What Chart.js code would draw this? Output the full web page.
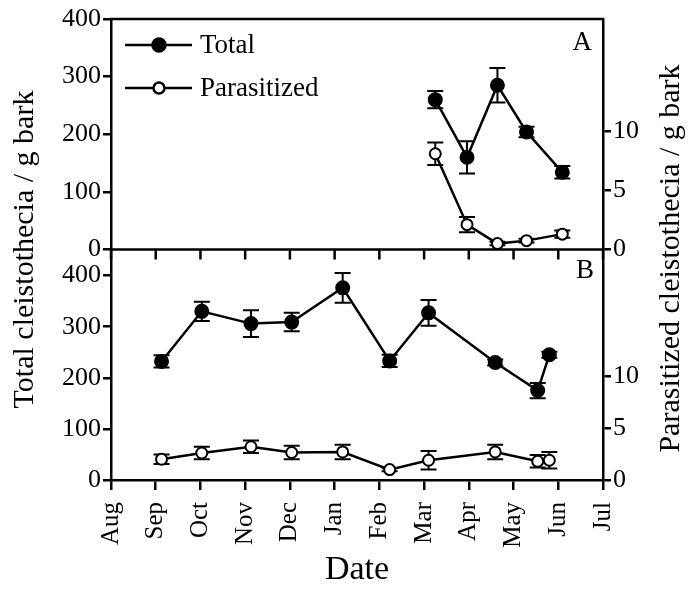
<!DOCTYPE html>
<html lang="en">
<head>
<meta charset="UTF-8">
<title>Cleistothecia per g bark</title>
<script src="https://cdn.jsdelivr.net/npm/chart.js"></script>
<style>
    body { margin: 0; background: #fff; }
    #wrap { width: 691px; height: 590px; }
</style>
</head>
<body>
<div id="wrap"><canvas id="chart" width="691" height="590"></canvas></div>
<script>
    // x values are months counted from 1 Aug (0 = Aug, 11 = Jul)
    const monthLabels = ['Aug', 'Sep', 'Oct', 'Nov', 'Dec', 'Jan', 'Feb', 'Mar', 'Apr', 'May', 'Jun', 'Jul'];
    const leftTicks = [0, 100, 200, 300, 400];
    const rightTicks = [0, 5, 10];

    // panel A
    const datesA = [7.25, 7.96, 8.64, 9.29, 10.09];
    const totalA = [260, 160, 285, 204, 134];
    const totalErrA = [15, 28, 30, 9, 11];
    const parasA = [8.1, 2.1, 0.5, 0.75, 1.3];
    const parasErrA = [0.95, 0.65, 0.15, 0.15, 0.3];

    // panel B
    const datesB = [1.13, 2.03, 3.13, 4.04, 5.18, 6.23, 7.10, 8.59, 9.54, 9.80];
    const totalB = [232, 330, 306, 309, 376, 233, 327, 230, 175, 245];
    const totalErrB = [12, 19, 26, 18, 29, 12, 25, 6, 15, 6];
    const parasB = [2.0, 2.6, 3.2, 2.65, 2.7, 1.0, 1.9, 2.7, 1.8, 1.9];
    const parasErrB = [0.45, 0.6, 0.6, 0.65, 0.7, 0.15, 0.9, 0.7, 0.6, 0.8];

    const serif = "'Liberation Serif', 'Times New Roman', serif";
    Chart.defaults.font.family = serif;
    Chart.defaults.color = '#000';

    function points(xs, ys) {
        return xs.map((x, i) => ({ x: x, y: ys[i] }));
    }

    function series(label, xs, ys, errs, axis, fill) {
        return {
            label: label,
            data: points(xs, ys),
            errors: errs,
            yAxisID: axis,
            borderColor: '#000',
            borderWidth: 2.5,
            pointRadius: fill === '#000' ? 6.5 : 5.5,
            pointBorderWidth: 2,
            pointBorderColor: '#000',
            pointBackgroundColor: fill,
            tension: 0
        };
    }

    function yAxis(pos, max, ticks, weight, width) {
        return {
            type: 'linear',
            position: pos,
            stack: pos,
            stackWeight: 1,
            weight: weight,
            min: 0,
            max: max,
            afterBuildTicks: s => { s.ticks = ticks.map(v => ({ value: v })); },
            afterFit: s => { s.width = width; },
            ticks: { padding: 2, font: { size: 26 }, color: '#000' },
            grid: { drawOnChartArea: false, drawTicks: true, tickLength: 8, color: '#000', lineWidth: 2.5 },
            border: { color: '#000', width: 2.5 }
        };
    }

    // error bars under the markers
    const errorBars = {
        id: 'errorBars',
        beforeDatasetsDraw(chart) {
            const ctx = chart.ctx;
            ctx.save();
            ctx.strokeStyle = '#000';
            ctx.lineWidth = 2;
            chart.data.datasets.forEach((ds, i) => {
                const meta = chart.getDatasetMeta(i);
                const scale = chart.scales[ds.yAxisID];
                meta.data.forEach((pt, j) => {
                    const v = ds.data[j].y, e = ds.errors[j];
                    const hi = scale.getPixelForValue(v + e);
                    const lo = scale.getPixelForValue(v - e);
                    ctx.beginPath();
                    ctx.moveTo(pt.x, hi); ctx.lineTo(pt.x, lo);
                    ctx.moveTo(pt.x - 8, hi); ctx.lineTo(pt.x + 8, hi);
                    ctx.moveTo(pt.x - 8, lo); ctx.lineTo(pt.x + 8, lo);
                    ctx.stroke();
                });
            });
            ctx.restore();
        }
    };

    // frame, panel split, titles, legend
    const decorations = {
        id: 'decorations',
        afterDraw(chart) {
            const ctx = chart.ctx;
            const area = chart.chartArea;
            const x = chart.scales.x;
            const split = chart.scales.yA.bottom;
            ctx.save();
            ctx.strokeStyle = '#000';
            ctx.fillStyle = '#000';
            ctx.lineWidth = 2.5;
            ctx.beginPath();
            ctx.moveTo(area.left - 1, area.top); ctx.lineTo(area.right + 1, area.top);
            ctx.moveTo(area.left, split); ctx.lineTo(area.right, split);
            x.ticks.forEach(t => {
                const px = x.getPixelForValue(t.value);
                ctx.moveTo(px, split); ctx.lineTo(px, split + 10);
            });
            ctx.stroke();

            ctx.font = '30px ' + serif;
            ctx.textAlign = 'center';
            ctx.textBaseline = 'middle';
            ctx.save();
            ctx.translate(25, (area.top + area.bottom) / 2);
            ctx.rotate(-Math.PI / 2);
            ctx.fillText('Total cleistothecia / g bark', 0, 0);
            ctx.restore();
            ctx.save();
            ctx.translate(671, (area.top + area.bottom) / 2 + 9);
            ctx.rotate(-Math.PI / 2);
            ctx.fillText('Parasitized cleistothecia / g bark', 0, 0);
            ctx.restore();

            ctx.font = '27px ' + serif;
            ctx.textAlign = 'right';
            ctx.fillText('A', area.right - 11, area.top + 24);
            ctx.fillText('B', area.right - 9, split + 21);

            // legend from the panel A series
            ctx.font = '27px ' + serif;
            ctx.textAlign = 'left';
            ctx.lineWidth = 2.5;
            [0, 1].forEach(i => {
                const ds = chart.data.datasets[i];
                const ly = area.top + 26 + i * 43;
                ctx.beginPath();
                ctx.moveTo(area.left + 14, ly); ctx.lineTo(area.left + 81, ly);
                ctx.stroke();
                ctx.beginPath();
                ctx.arc(area.left + 48, ly, ds.pointRadius, 0, Math.PI * 2);
                ctx.fillStyle = ds.pointBackgroundColor;
                ctx.fill();
                ctx.stroke();
                ctx.fillStyle = '#000';
                ctx.fillText(ds.label, area.left + 89, ly + 1);
            });
            ctx.restore();
        }
    };

    const ctx = document.getElementById('chart').getContext('2d');
    const myChart = new Chart(ctx, {
        type: 'line',
        data: {
            datasets: [
                series('Total', datesA, totalA, totalErrA, 'yA', '#000'),
                series('Parasitized', datesA, parasA, parasErrA, 'yA2', '#fff'),
                series('Total', datesB, totalB, totalErrB, 'yB', '#000'),
                series('Parasitized', datesB, parasB, parasErrB, 'yB2', '#fff')
            ]
        },
        options: {
            responsive: false,
            animation: false,
            devicePixelRatio: 1,
            layout: { padding: { top: 19, left: 0, right: 0, bottom: 0 } },
            plugins: { legend: { display: false }, tooltip: { enabled: false } },
            scales: {
                x: {
                    type: 'linear',
                    position: 'bottom',
                    min: 0,
                    max: 11,
                    afterBuildTicks: s => { s.ticks = monthLabels.map((m, i) => ({ value: i })); },
                    afterFit: s => { s.height = 110; },
                    ticks: {
                        autoSkip: false, minRotation: 90, maxRotation: 90, padding: 12,
                        font: { size: 25 }, color: '#000',
                        callback: v => monthLabels[v]
                    },
                    grid: { drawOnChartArea: false, drawTicks: true, tickLength: 10, color: '#000', lineWidth: 2.5 },
                    border: { color: '#000', width: 2.5 },
                    title: { display: true, text: 'Date', font: { size: 34 }, color: '#000', padding: 0 }
                },
                yA: yAxis('left', 400, leftTicks, 2, 111),
                yB: yAxis('left', 451, leftTicks, 1, 111),
                yA2: yAxis('right', 19.5, rightTicks, 1, 88),
                yB2: yAxis('right', 22.2, rightTicks, 2, 88)
            }
        },
        plugins: [errorBars, decorations]
    });
</script>
</body>
</html>
